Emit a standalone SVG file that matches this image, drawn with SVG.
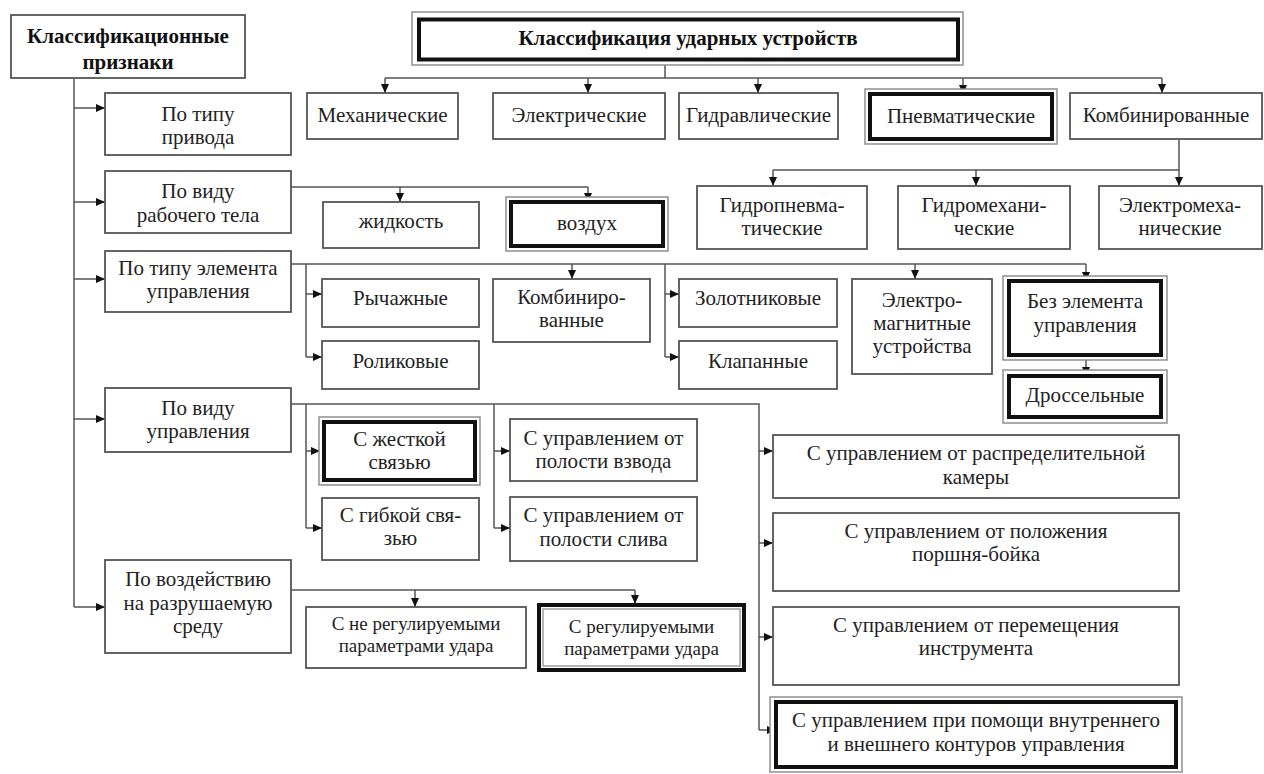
<svg xmlns="http://www.w3.org/2000/svg" width="1264" height="774" viewBox="0 0 1264 774">
<defs>
<style>
.b{fill:#fff;stroke:#555;stroke-width:1.8}
.o{fill:#fff;stroke:#888;stroke-width:1.4}
.k{fill:none;stroke:#111;stroke-width:4}
.g{fill:none;stroke:#888;stroke-width:1.2}
text{font-family:"Liberation Serif","Times New Roman","DejaVu Serif",serif;font-size:21px;fill:#222;text-anchor:middle}
.bd{font-weight:bold;fill:#111}
.sm{font-size:19px}
.c{fill:none;stroke:#555;stroke-width:1.5}
</style>
<marker id="a" markerUnits="userSpaceOnUse" markerWidth="9" markerHeight="8" refX="9" refY="4" orient="auto">
<path d="M0,0 L9,4 L0,8 z" fill="#111"/>
</marker>
</defs>
<rect width="1264" height="774" fill="#fff"/>

<g id="connectors">
<path class="c" d="M74,79 V607"/>
<path class="c" d="M74,108 H105" marker-end="url(#a)"/>
<path class="c" d="M74,202 H105" marker-end="url(#a)"/>
<path class="c" d="M74,279 H105" marker-end="url(#a)"/>
<path class="c" d="M74,419 H105" marker-end="url(#a)"/>
<path class="c" d="M74,607 H105" marker-end="url(#a)"/>
<path class="c" d="M665,65 V78 M385,78 H1162"/>
<path class="c" d="M385,78 V93" marker-end="url(#a)"/>
<path class="c" d="M588,78 V93" marker-end="url(#a)"/>
<path class="c" d="M758,78 V93" marker-end="url(#a)"/>
<path class="c" d="M963,78 V94" marker-end="url(#a)"/>
<path class="c" d="M1162,78 V93" marker-end="url(#a)"/>
<path class="c" d="M1179,140 V170 M773,170 H1179"/>
<path class="c" d="M773,170 V186" marker-end="url(#a)"/>
<path class="c" d="M976,170 V186" marker-end="url(#a)"/>
<path class="c" d="M1179,170 V186" marker-end="url(#a)"/>
<path class="c" d="M291,187 H588"/>
<path class="c" d="M400,187 V202" marker-end="url(#a)"/>
<path class="c" d="M588,187 V202" marker-end="url(#a)"/>
<path class="c" d="M291,264 H1086 M306,264 V357 M665,264 V357"/>
<path class="c" d="M306,294 H322" marker-end="url(#a)"/>
<path class="c" d="M306,357 H322" marker-end="url(#a)"/>
<path class="c" d="M665,294 H679" marker-end="url(#a)"/>
<path class="c" d="M665,357 H679" marker-end="url(#a)"/>
<path class="c" d="M572,264 V279" marker-end="url(#a)"/>
<path class="c" d="M915,264 V279" marker-end="url(#a)"/>
<path class="c" d="M1086,264 V281" marker-end="url(#a)"/>
<path class="c" d="M1086,360 V376" marker-end="url(#a)"/>
<path class="c" d="M291,404 H759 V730 M306,404 V528 M494,404 V528"/>
<path class="c" d="M306,451 H320" marker-end="url(#a)"/>
<path class="c" d="M306,528 H322" marker-end="url(#a)"/>
<path class="c" d="M494,451 H510" marker-end="url(#a)"/>
<path class="c" d="M494,528 H510" marker-end="url(#a)"/>
<path class="c" d="M759,451 H773" marker-end="url(#a)"/>
<path class="c" d="M759,543 H773" marker-end="url(#a)"/>
<path class="c" d="M759,637 H773" marker-end="url(#a)"/>
<path class="c" d="M759,730 H776" marker-end="url(#a)"/>
<path class="c" d="M291,590 H635"/>
<path class="c" d="M415,590 V607" marker-end="url(#a)"/>
<path class="c" d="M635,590 V604" marker-end="url(#a)"/>
</g>

<g id="n-priznaki"><rect class="b" x="11" y="15" width="234" height="63"/>
<text class="bd" x="128" y="43">Классификационные</text><text class="bd" x="128" y="69">признаки</text></g>

<g id="n-title"><rect class="o" x="412" y="12" width="551" height="53"/><rect class="k" x="419" y="19.5" width="539" height="40"/>
<text class="bd" x="688" y="45">Классификация ударных устройств</text></g>

<g id="n-mech"><rect class="b" x="307" y="93" width="151" height="46"/><text x="382.5" y="122">Механические</text></g>
<g id="n-elec"><rect class="b" x="493" y="93" width="172" height="46"/><text x="579" y="122">Электрические</text></g>
<g id="n-hydr"><rect class="b" x="679" y="93" width="159" height="46"/><text x="758.5" y="122">Гидравлические</text></g>
<g id="n-pneu"><rect class="o" x="865" y="89" width="192" height="55"/><rect class="k" x="870" y="94" width="182" height="45"/><text x="961" y="123">Пневматические</text></g>
<g id="n-comb"><rect class="b" x="1070" y="93" width="192" height="46"/><text x="1166" y="122">Комбинированные</text></g>

<g id="n-hpn"><rect class="b" x="697" y="186" width="170" height="63"/><text x="782" y="212">Гидропневма-</text><text x="782" y="235">тические</text></g>
<g id="n-hme"><rect class="b" x="898" y="186" width="172" height="63"/><text x="984" y="212">Гидромехани-</text><text x="984" y="235">ческие</text></g>
<g id="n-eme"><rect class="b" x="1099" y="186" width="163" height="63"/><text x="1180" y="212">Электромеха-</text><text x="1180" y="235">нические</text></g>

<g id="n-privod"><rect class="b" x="105" y="93" width="186" height="62"/><text x="198" y="121">По типу</text><text x="198" y="144">привода</text></g>
<g id="n-telo"><rect class="b" x="105" y="171" width="186" height="62"/><text x="198" y="198">По виду</text><text x="198" y="222">рабочего тела</text></g>
<g id="n-element"><rect class="b" x="105" y="251" width="186" height="61"/><text x="198" y="275">По типу элемента</text><text x="198" y="298">управления</text></g>
<g id="n-upr"><rect class="b" x="105" y="388" width="186" height="64"/><text x="198" y="415">По виду</text><text x="198" y="438">управления</text></g>
<g id="n-sreda"><rect class="b" x="105" y="560" width="186" height="93"/><text x="198" y="586">По воздействию</text><text x="198" y="610">на разрушаемую</text><text x="198" y="633">среду</text></g>

<g id="n-liquid"><rect class="b" x="323" y="202" width="156" height="46"/><text x="401" y="228">жидкость</text></g>
<g id="n-air"><rect class="o" x="506" y="197" width="162" height="54"/><rect class="k" x="511" y="202" width="152" height="44"/><text x="587" y="230">воздух</text></g>

<g id="n-lever"><rect class="b" x="322" y="279" width="157" height="48"/><text x="400.5" y="305">Рычажные</text></g>
<g id="n-roller"><rect class="b" x="322" y="341" width="157" height="48"/><text x="400.5" y="368">Роликовые</text></g>
<g id="n-combel"><rect class="b" x="493" y="279" width="157" height="63"/><text x="571.5" y="304">Комбиниро-</text><text x="571.5" y="327">ванные</text></g>
<g id="n-spool"><rect class="b" x="679" y="279" width="158" height="48"/><text x="758" y="305">Золотниковые</text></g>
<g id="n-valve"><rect class="b" x="679" y="341" width="158" height="48"/><text x="758" y="368">Клапанные</text></g>
<g id="n-emag"><rect class="b" x="852" y="279" width="140" height="95"/><text x="922" y="307">Электро-</text><text x="922" y="330">магнитные</text><text x="922" y="353">устройства</text></g>
<g id="n-noel"><rect class="o" x="1003" y="276" width="164" height="84"/><rect class="k" x="1009" y="281" width="152" height="74"/><text x="1085" y="308">Без элемента</text><text x="1085" y="332">управления</text></g>
<g id="n-throttle"><rect class="o" x="1003" y="370" width="164" height="53"/><rect class="k" x="1009" y="376" width="152" height="41"/><text x="1085" y="402">Дроссельные</text></g>

<g id="n-rigid"><rect class="o" x="319" y="417" width="161" height="68"/><rect class="k" x="324" y="422" width="151" height="58"/><text x="399.5" y="446">С жесткой</text><text x="399.5" y="469">связью</text></g>
<g id="n-flex"><rect class="b" x="322" y="498" width="157" height="62"/><text x="400.5" y="522">С гибкой свя-</text><text x="400.5" y="545">зью</text></g>
<g id="n-cock"><rect class="b" x="510" y="419" width="187" height="62"/><text x="603.5" y="445">С управлением от</text><text x="603.5" y="468">полости взвода</text></g>
<g id="n-drain"><rect class="b" x="510" y="497" width="187" height="64"/><text x="603.5" y="522">С управлением от</text><text x="603.5" y="546">полости слива</text></g>

<g id="n-distr"><rect class="b" x="773" y="435" width="406" height="63"/><text x="976" y="460">С управлением от распределительной</text><text x="976" y="484">камеры</text></g>
<g id="n-piston"><rect class="b" x="773" y="513" width="406" height="78"/><text x="976" y="538">С управлением от положения</text><text x="976" y="561">поршня-бойка</text></g>
<g id="n-tool"><rect class="b" x="773" y="607" width="406" height="78"/><text x="976" y="632">С управлением от перемещения</text><text x="976" y="655">инструмента</text></g>
<g id="n-contours"><rect class="o" x="770" y="697" width="412" height="75"/><rect class="k" x="776" y="702" width="400" height="65"/><text x="976" y="727">С управлением при помощи внутреннего</text><text x="976" y="751">и внешнего контуров управления</text></g>

<g id="n-nonreg"><rect class="b" x="306" y="607" width="220" height="61"/><text class="sm" x="416" y="630">С не регулируемыми</text><text class="sm" x="416" y="652">параметрами удара</text></g>
<g id="n-reg"><rect class="k" x="539" y="605" width="205" height="65"/><rect class="g" x="543" y="609" width="197" height="57"/><text class="sm" x="641.5" y="633">С регулируемыми</text><text class="sm" x="641.5" y="655">параметрами удара</text></g>
</svg>
